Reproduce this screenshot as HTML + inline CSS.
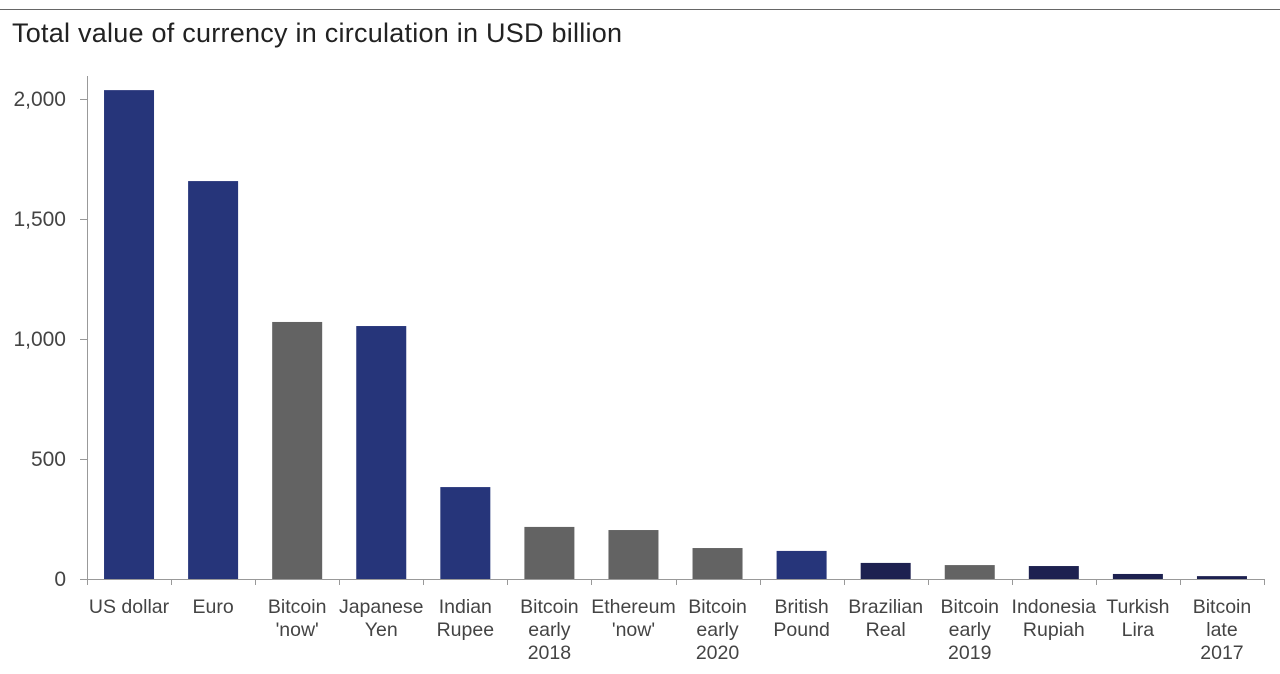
<!DOCTYPE html>
<html><head><meta charset="utf-8"><style>
body{margin:0;background:#fff;width:1280px;height:669px;overflow:hidden;font-family:"Liberation Sans",sans-serif}
</style></head><body>
<svg width="1280" height="669" id="c">
<line x1="0" y1="9.5" x2="1280" y2="9.5" stroke="#666" stroke-width="1"/>
<text x="12" y="42" font-size="27" fill="#222" textLength="610">Total value of currency in circulation in USD billion</text>
</svg>
<script>
const categories=[["US dollar"],["Euro"],["Bitcoin","'now'"],["Japanese","Yen"],["Indian","Rupee"],["Bitcoin","early","2018"],["Ethereum","'now'"],["Bitcoin","early","2020"],["British","Pound"],["Brazilian","Real"],["Bitcoin","early","2019"],["Indonesia","Rupiah"],["Turkish","Lira"],["Bitcoin","late","2017"]];
const values=[2037,1658,1071,1054,383,217,204,129,117,67,58,54,21,12];
const kinds=["fiat","fiat","crypto","fiat","fiat","crypto","crypto","crypto","fiat","em","crypto","em","em","em"];
const yTicks=[0,500,1000,1500,2000];
const yTickLabels=["0","500","1,000","1,500","2,000"];
const svg=document.getElementById('c');const NS="http://www.w3.org/2000/svg";
const x0=87,x1=1264,y0=579,yTop=99,step=(x1-x0)/categories.length,bw=50;
const y=v=>y0-(v/2000)*(y0-yTop);
const col={fiat:"#26357a",crypto:"#636363",em:"#1d2150"};
function mk(t,a){const e=document.createElementNS(NS,t);for(const k in a)e.setAttribute(k,a[k]);svg.appendChild(e);return e;}
let ax=mk('line',{x1:x0+.5,y1:76,x2:x0+.5,y2:y0,stroke:'#999'});


yTicks.forEach((t,i)=>{
 const l=mk('line',{x1:x0-7,x2:x0,y1:y(t)+.5,y2:y(t)+.5,stroke:'#999'});
 
 
 const tx=mk('text',{x:66,y:y(t)+7,'text-anchor':'end','font-size':21,fill:'#444'});tx.textContent=yTickLabels[i];
 
 
});
values.forEach((v,i)=>{
 const cx=x0+step*(i+.5);
 const r=mk('rect',{x:cx-bw/2,y:y(v),width:bw,height:y0-y(v),fill:col[kinds[i]]});
 
 
 categories[i].forEach((s,j)=>{
  const t=mk('text',{x:cx,y:613+j*23,'text-anchor':'middle','font-size':19.5,fill:'#444'});t.textContent=s;
  
  
 });
});
for(let i=0;i<=categories.length;i++){
 const tx=Math.round(x0+step*i)+.5;
 const l=mk('line',{x1:tx,x2:tx,y1:y0,y2:y0+6,stroke:'#999'});
 
 
}
const b=mk('line',{x1:x0,x2:x1,y1:y0+.5,y2:y0+.5,stroke:'#999'});


</script>
</body></html>
